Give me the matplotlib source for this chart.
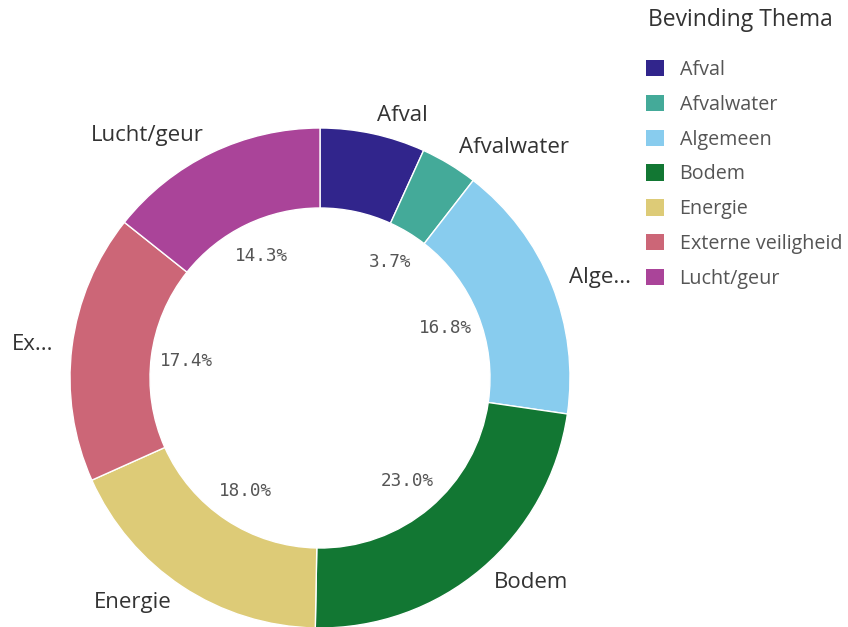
"""Donut chart: Bevinding Thema (share of findings per theme)."""

import numpy as np
import matplotlib.pyplot as plt

# data
themes = ["Afval", "Afvalwater", "Algemeen", "Bodem", "Energie",
          "Externe veiligheid", "Lucht/geur"]
outer_labels = ["Afval", "Afvalwater", "Alge...", "Bodem", "Energie",
                "Ex...", "Lucht/geur"]
shares = [6.8, 3.7, 16.8, 23.0, 18.0, 17.4, 14.3]
show_pct = [False, True, True, True, True, True, True]

COLORS = ["#31258C", "#44AA99", "#88CCEE", "#127733",
          "#DDCB77", "#CC6677", "#AA4499"]

W, H = 848, 627
fig = plt.figure(figsize=(W / 100, H / 100), dpi=100)

# pie axes: centre (320, 378) px from top-left, radius 250 px
cx, cy, R = 320, 378, 250
ax = fig.add_axes([(cx - R) / W, (H - cy - R) / H, 2 * R / W, 2 * R / H])

wedges, texts = ax.pie(
    shares, colors=COLORS, labels=outer_labels, labeldistance=1.075,
    startangle=90, counterclock=False, radius=1.0,
    wedgeprops=dict(width=0.32, edgecolor="white", linewidth=1.0),
    textprops=dict(fontsize=16, color="#333333", family="Open Sans"),
)
ax.set_xlim(-1, 1)
ax.set_ylim(-1, 1)
ax.set_aspect("equal")
ax.axis("off")
for w in wedges:
    w.set_clip_on(False)
for t in texts:
    t.set_clip_on(False)

# percentage labels inside the hole
for w, val, show in zip(wedges, shares, show_pct):
    if not show:
        continue
    mid = np.deg2rad((w.theta1 + w.theta2) / 2)
    r = 0.54
    ax.text(r * np.cos(mid), r * np.sin(mid), f"{val:.1f}%",
            ha="center", va="center", fontsize=12.7, color="#555555",
            family="DejaVu Sans Mono")

# legend
fig.text(648 / W, 1 - 20 / H, "Bevinding Thema", ha="left", va="center",
         fontsize=16.5, color="#333333", family="Open Sans")
leg = fig.legend(
    wedges, themes, loc="upper left", bbox_to_anchor=(646 / W, 1 - 60 / H),
    frameon=False, handlelength=0.9, handleheight=0.9, handletextpad=0.8,
    labelspacing=0.75, borderaxespad=0, borderpad=0,
    prop=dict(family="Open Sans", size=14.2),
)
for t in leg.get_texts():
    t.set_color("#555555")
for h in leg.legend_handles:
    h.set_edgecolor("none")

fig.savefig("out.png", dpi=100, facecolor="white")
